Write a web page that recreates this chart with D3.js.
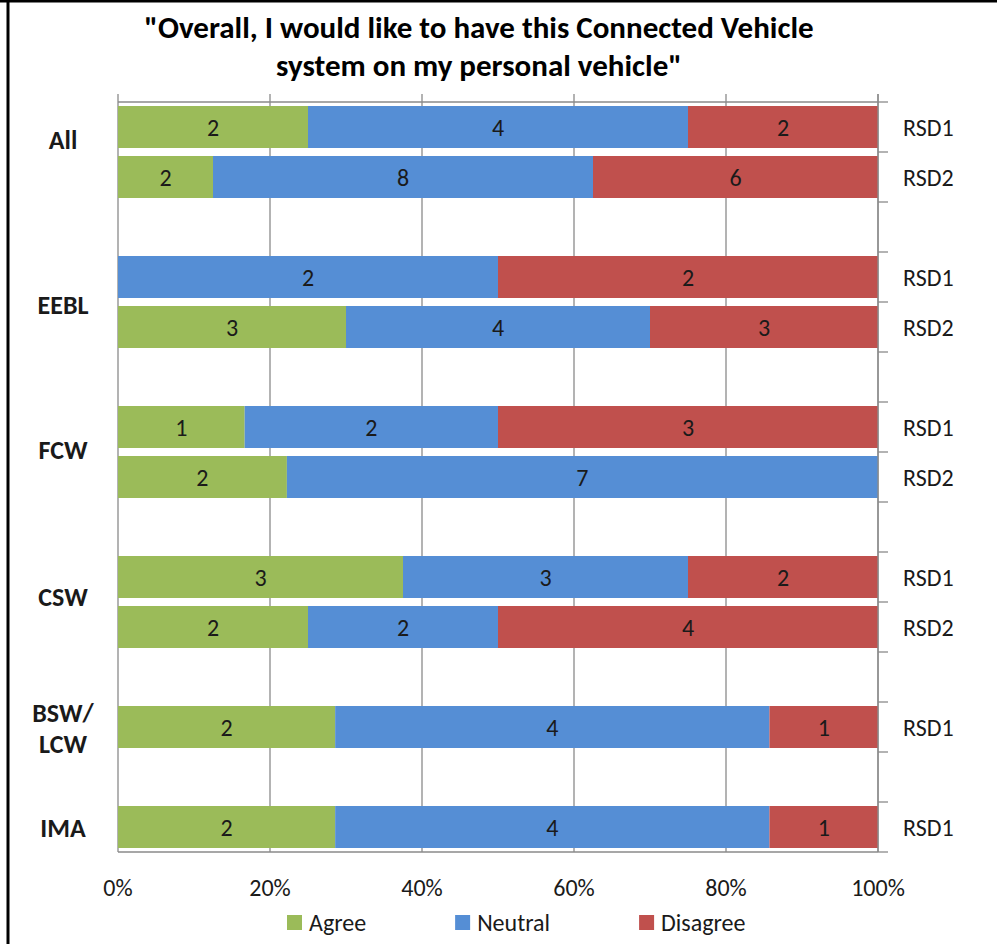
<!DOCTYPE html>
<html>
<head>
<meta charset="utf-8">
<script src="https://cdn.jsdelivr.net/npm/d3@7"></script>
<style>
  html, body { margin: 0; padding: 0; background: #fff; }
  svg { display: block; font-family: Carlito, Calibri, Lato, "Open Sans", sans-serif; }
</style>
</head>
<body>
<svg id="chart" width="997" height="944"></svg>
<script>
// ---- data ----
const titleLines = ["\"Overall, I would like to have this Connected Vehicle", "system on my personal vehicle\""];
const seriesNames = ["Agree", "Neutral", "Disagree"];
const seriesColors = ["#9BBB59", "#558ED5", "#C0504D"];
const rowIds = ["All-1","All-2","gap1","EEBL-1","EEBL-2","gap2","FCW-1","FCW-2","gap3","CSW-1","CSW-2","gap4","BSW-1","gap5","IMA-1"];
const rowLabels = ["RSD1","RSD2","","RSD1","RSD2","","RSD1","RSD2","","RSD1","RSD2","","RSD1","","RSD1"];
const agree    = [2, 2, null, 0, 3, null, 1, 2, null, 3, 2, null, 2, null, 2];
const neutral  = [4, 8, null, 2, 4, null, 2, 7, null, 3, 2, null, 4, null, 4];
const disagree = [2, 6, null, 2, 3, null, 3, 0, null, 2, 4, null, 1, null, 1];
const groupNames = ["All", "EEBL", "FCW", "CSW", "BSW/|LCW", "IMA"];
const groupRows = [["All-1","All-2"],["EEBL-1","EEBL-2"],["FCW-1","FCW-2"],["CSW-1","CSW-2"],["BSW-1"],["IMA-1"]];
const xTicks = [0, 0.2, 0.4, 0.6, 0.8, 1.0];

// ---- layout (not data) ----
const groupLabelDy = [-12, 3, -2, -5, 1, 1];
const svg = d3.select("#chart");
const pL = 118, pR = 878, pT = 102, pB = 852;
const axisColor = "#8a8a8a";
const textColor = "#1a1a1a";

const x = d3.scaleLinear().domain([0, 1]).range([pL, pR]);
const y = d3.scaleBand().domain(rowIds).range([pT, pB]).paddingInner(0.16).paddingOuter(0.08);
const step = y.step();

// frame (top + left)
svg.append("rect").attr("x", 0).attr("y", 0).attr("width", 997).attr("height", 2.5).attr("fill", "#000");
svg.append("rect").attr("x", 6.5).attr("y", 0).attr("width", 3).attr("height", 944).attr("fill", "#000");

// title
svg.append("g").selectAll("text").data(titleLines).join("text")
  .attr("x", 479).attr("y", (d, i) => 38 + i * 38)
  .attr("text-anchor", "middle")
  .attr("font-weight", "bold").attr("font-size", 31)
  .attr("fill", "#000")
  .text(d => d);

// vertical gridlines (extend 8px above plot as top-axis ticks)
svg.append("g").selectAll("line").data(xTicks).join("line")
  .attr("x1", d => x(d)).attr("x2", d => x(d))
  .attr("y1", pT - 8).attr("y2", pB)
  .attr("stroke", axisColor).attr("stroke-width", 1.3);

// top and bottom horizontal lines
svg.append("line").attr("x1", pL).attr("x2", pR).attr("y1", pT).attr("y2", pT)
  .attr("stroke", axisColor).attr("stroke-width", 1.3);
svg.append("line").attr("x1", pL).attr("x2", pR).attr("y1", pB).attr("y2", pB)
  .attr("stroke", axisColor).attr("stroke-width", 1.3);

// stacked data
const rows = rowIds.map((id, i) => ({ id, label: rowLabels[i], vals: [agree[i], neutral[i], disagree[i]] }));
const segs = [];
rows.forEach(r => {
  if (r.vals[0] === null) return;
  const total = d3.sum(r.vals);
  let acc = 0;
  r.vals.forEach((v, k) => {
    if (v > 0) segs.push({ id: r.id, k, v, x0: acc / total, x1: (acc + v) / total });
    acc += v;
  });
});

const gBars = svg.append("g");
gBars.selectAll("rect").data(segs).join("rect")
  .attr("x", d => x(d.x0)).attr("width", d => x(d.x1) - x(d.x0))
  .attr("y", d => y(d.id)).attr("height", y.bandwidth())
  .attr("fill", d => seriesColors[d.k]);

gBars.selectAll("text").data(segs).join("text")
  .attr("x", d => (x(d.x0) + x(d.x1)) / 2)
  .attr("y", d => y(d.id) + y.bandwidth() / 2)
  .attr("dy", "0.36em")
  .attr("text-anchor", "middle")
  .attr("font-size", 24).attr("fill", textColor)
  .text(d => d.v);

// right category axis
const yTickPos = d3.range(rowIds.length + 1).map(i => pT + i * step);
svg.append("line").attr("x1", pR).attr("x2", pR).attr("y1", pT - 8).attr("y2", pB)
  .attr("stroke", axisColor).attr("stroke-width", 1.3);
svg.append("g").selectAll("line").data(yTickPos).join("line")
  .attr("x1", pR).attr("x2", pR + 10)
  .attr("y1", d => d).attr("y2", d => d)
  .attr("stroke", axisColor).attr("stroke-width", 1.3);
svg.append("g").selectAll("text").data(rows.filter(r => r.label)).join("text")
  .attr("x", 903).attr("y", d => y(d.id) + y.bandwidth() / 2)
  .attr("dy", "0.36em")
  .attr("font-size", 24).attr("fill", textColor)
  .text(d => d.label);

// group labels
const gl = svg.append("g");
groupNames.forEach((name, i) => {
  const ids = groupRows[i];
  const cy = d3.mean(ids, id => y(id) + y.bandwidth() / 2) + groupLabelDy[i];
  const lines = name.split("|");
  const lh = 31;
  lines.forEach((ln, j) => {
    gl.append("text").attr("text-anchor", "middle")
      .attr("font-weight", "bold").attr("font-size", 26).attr("fill", textColor)
      .attr("x", 63)
      .attr("y", cy + (j - (lines.length - 1) / 2) * lh)
      .attr("dy", "0.36em").text(ln);
  });
});

// x tick labels
svg.append("g").selectAll("text").data(xTicks).join("text")
  .attr("x", d => x(d)).attr("y", 887).attr("dy", "0.36em")
  .attr("text-anchor", "middle").attr("font-size", 24).attr("fill", textColor)
  .text(d => d3.format(".0%")(d));

// legend
const legend = svg.append("g");
let lx = 287;
seriesNames.forEach((name, i) => {
  legend.append("rect").attr("x", lx).attr("y", 915).attr("width", 15).attr("height", 15)
    .attr("fill", seriesColors[i]);
  const t = legend.append("text").attr("x", lx + 22).attr("y", 922).attr("dy", "0.36em")
    .attr("font-size", 24).attr("fill", textColor).text(name);
  lx += 22 + t.node().getComputedTextLength() + 89;
});
</script>
</body>
</html>
